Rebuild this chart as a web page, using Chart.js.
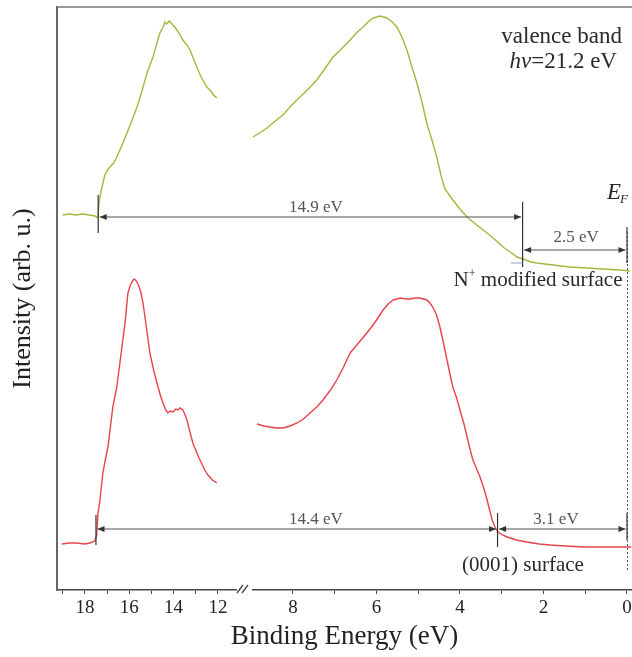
<!DOCTYPE html>
<html><head><meta charset="utf-8">
<script src="https://cdn.jsdelivr.net/npm/chart.js@4/dist/chart.umd.min.js"></script>
<style>html,body{margin:0;padding:0;background:#fff}#wrap{width:632px;height:657px}</style>
</head><body><div id="wrap"><canvas id="c" width="632" height="657"></canvas></div>
<script>
// ---------- data (binding energy in eV, intensity in arb. u.) ----------
const greenLeftE = [19.0,18.7,18.4,18.1,17.8,17.55,17.42,17.37,17.3,17.23,17.1,16.95,16.87,16.7,16.56,16.3,16.1,15.85,15.65,15.4,15.2,14.93,14.75,14.62,14.45,14.39,14.3,14.2,14.07,13.95,13.85,13.7,13.58,13.4,13.26,13.1,12.95,12.8,12.68,12.5,12.36,12.2,12.05];
const greenLeftI = [375,376,375,376,375,374,372,385,396,403,415,421,423,427,433,446,457,471,483,501,517,533,547,557,564,568,566,569,566,563,560,555,550,545,540,531,523,515,510,503,500,495,492];
const greenRightE = [8.96,8.8,8.62,8.45,8.24,8.05,7.83,7.63,7.43,7.24,7.04,6.84,6.63,6.48,6.32,6.2,6.08,5.92,5.83,5.75,5.62,5.51,5.39,5.27,5.15,5.03,4.91,4.79,4.67,4.55,4.45,4.36,4.17,4.0,3.83,3.6,3.35,3.15,2.97,2.8,2.63,2.49,2.3,2.16,1.77,1.37,0.96,0.57,0.17,-0.07];
const greenRightI = [453,457,462,468,475,484,493,501,510,521,533,541,550,557,563,568,572,574,573,572,568,563,553,540,523,507,488,466,450,432,414,401,390,381,373,365,357,350,343,338,333,331,328,327,325,323,322,321,320,319];
const redLeftE = [19.04,18.7,18.36,18.0,17.77,17.55,17.47,17.41,17.32,17.19,17.08,16.96,16.85,16.74,16.56,16.45,16.33,16.19,16.06,15.95,15.88,15.79,15.72,15.65,15.55,15.47,15.38,15.29,15.18,15.07,14.9,14.75,14.6,14.48,14.35,14.26,14.15,14.03,13.9,13.8,13.71,13.58,13.5,13.4,13.25,13.13,12.95,12.81,12.62,12.45,12.25,12.05];
const redLeftI = [46,47,47,46,47,49,55,77,90,117,130,143,163,183,203,222,243,267,297,305,308,311,310,308,303,297,287,273,255,237,220,207,195,187,180,177,179,178,181,180,182,180,176,170,157,147,137,130,121,115,110,107];
const redRightE = [8.86,8.7,8.55,8.4,8.24,8.07,7.9,7.75,7.59,7.43,7.28,7.1,6.95,6.8,6.63,6.43,6.23,6.03,5.84,5.72,5.6,5.43,5.3,5.19,5.08,4.96,4.88,4.79,4.72,4.65,4.56,4.48,4.4,4.31,4.24,4.17,4.08,4.0,3.91,3.83,3.76,3.69,3.6,3.52,3.43,3.35,3.29,3.23,3.16,3.09,2.98,2.87,2.65,2.4,2.1,1.84,1.45,1.05,0.6,0.24,-0.1];
const redRightI = [166,164,163,162,162,164,167,171,177,183,190,200,210,222,237,247,257,268,280,286,290,292,291,291,292,292,291,290,287,283,275,263,248,230,216,203,192,180,167,153,141,130,121,113,102,90,80,70,63,58,55,53,50,48,46,45,44,43,43,43,43];

const tickEnergies = [19,18,17,16,15,14,13,12,8,7,6,5,4,3,2,1,0];
const tickLabels   = ['','18','','16','','14','','12','8','','6','','4','','2','','0'];

// annotation values (eV)
const greenCutoff = 17.4, greenVBM = 2.5;
const redCutoff = 17.5, redVBM = 3.1;
const greenArrowI = 373, greenVbmArrowI = 340;
const redArrowI = 61;

// ---------- broken axis mapping (12..19 eV compressed, 0..9 eV full) ----------
function toAxis(E){ return E <= 10 ? E : 9.796 + (E - 12) * 0.531; }
function series(E1, I1, E2, I2){
  const d = E1.map((e,i)=>({x:toAxis(e), y:I1[i]}));
  d.push({x:toAxis(11), y:null});
  return d.concat(E2.map((e,i)=>({x:toAxis(e), y:I2[i]})));
}

const SERIF = '"Liberation Serif","Times New Roman",serif';

const annot = {
  id:'annot',
  afterDraw(chart){
    const {ctx, chartArea:ca, scales:{x, y}} = chart;
    const X = E => x.getPixelForValue(toAxis(E));
    const Y = v => y.getPixelForValue(v);
    ctx.save();
    // top frame line
    ctx.strokeStyle = '#777'; ctx.lineWidth = 1.5;
    ctx.beginPath(); ctx.moveTo(ca.left, ca.top); ctx.lineTo(ca.right, ca.top); ctx.stroke();
    // axis break
    const bx1 = x.getPixelForValue(9.34), bx2 = x.getPixelForValue(8.98);
    ctx.fillStyle = '#fff'; ctx.fillRect(bx1, ca.bottom - 4, bx2 - bx1, 8);
    ctx.strokeStyle = '#444'; ctx.lineWidth = 1.3;
    ctx.beginPath();
    ctx.moveTo(bx1, ca.bottom + 3); ctx.lineTo(bx1 + 6, ca.bottom - 5);
    ctx.moveTo(bx1 + 5, ca.bottom + 3); ctx.lineTo(bx1 + 11, ca.bottom - 5);
    ctx.stroke();

    // dotted Fermi line
    ctx.strokeStyle = '#555'; ctx.lineWidth = 1; ctx.setLineDash([2,2]);
    ctx.beginPath(); ctx.moveTo(X(0)+0.5, Y(358)); ctx.lineTo(X(0)+0.5, Y(20)); ctx.stroke();
    ctx.setLineDash([]);

    const vline = (E, a, b) => { ctx.strokeStyle = '#333'; ctx.lineWidth = 1.2;
      ctx.beginPath(); ctx.moveTo(X(E), Y(a)); ctx.lineTo(X(E), Y(b)); ctx.stroke(); };
    const head = (px, py, dir) => { ctx.fillStyle = '#333'; ctx.beginPath();
      ctx.moveTo(px, py); ctx.lineTo(px - dir*7, py - 3); ctx.lineTo(px - dir*7, py + 3); ctx.closePath(); ctx.fill(); };
    const arrow = (E1, E2, v) => { const x1 = X(E1) + 1.5, x2 = X(E2) - 1.5, py = Y(v);
      ctx.strokeStyle = '#555'; ctx.lineWidth = 1;
      ctx.beginPath(); ctx.moveTo(x1, py); ctx.lineTo(x2, py); ctx.stroke();
      head(x1, py, -1); head(x2, py, 1); };
    const label = (txt, E, v, size) => { ctx.fillStyle = '#555'; ctx.font = size + 'px ' + SERIF;
      ctx.textAlign = 'center'; ctx.textBaseline = 'middle'; ctx.fillText(txt, X(E), Y(v)); };

    // green (N+ modified) markers
    vline(greenCutoff, 395, 357);
    vline(greenVBM, 388, 323);
    vline(0, 363, 327);
    arrow(greenCutoff, greenVBM, greenArrowI);
    arrow(greenVBM, 0, greenVbmArrowI);
    label((greenCutoff - greenVBM).toFixed(1) + ' eV', 7.45, greenArrowI + 9, 17);
    label(greenVBM.toFixed(1) + ' eV', 1.22, greenVbmArrowI + 12, 17);
    ctx.strokeStyle = '#8ea2c8'; ctx.lineWidth = 1;
    ctx.beginPath(); ctx.moveTo(X(2.78), Y(327)); ctx.lineTo(X(2.5), Y(327)); ctx.stroke();

    // red ((0001)) markers
    vline(redCutoff, 75, 45);
    vline(redVBM, 77, 43);
    vline(0, 77, 50);
    arrow(redCutoff, redVBM, redArrowI);
    arrow(redVBM, 0, redArrowI);
    label((redCutoff - redVBM).toFixed(1) + ' eV', 7.45, redArrowI + 9, 17);
    label(redVBM.toFixed(1) + ' eV', 1.7, redArrowI + 9, 17);

    // texts
    ctx.fillStyle = '#2a2a2a'; ctx.textBaseline = 'middle';
    ctx.font = '23px ' + SERIF; ctx.textAlign = 'right';
    ctx.fillText('valence band', X(0.12), Y(553));
    const rest = '=21.2 eV';
    const rx = X(0.24);
    ctx.fillText(rest, rx, Y(528));
    const rw = ctx.measureText(rest).width;
    ctx.font = 'italic 23px ' + SERIF;
    ctx.fillText('h\u03BD', rx - rw, Y(528));
    // E_F
    ctx.textAlign = 'left';
    ctx.font = 'italic 23px ' + SERIF;
    ctx.fillText('E', X(0) - 20, Y(397));
    const ew = ctx.measureText('E').width;
    ctx.font = 'italic 13px ' + SERIF;
    ctx.fillText('F', X(0) - 20 + ew - 1, Y(390));
    // N+ modified surface
    ctx.font = '21px ' + SERIF;
    const t1 = 'N', t3 = ' modified surface';
    const w1 = ctx.measureText(t1).width, w3 = ctx.measureText(t3).width;
    ctx.font = '12px ' + SERIF; const w2 = ctx.measureText('+').width;
    let sx = X(2.13) - (w1 + w2 + w3) / 2;
    ctx.font = '21px ' + SERIF; ctx.fillText(t1, sx, Y(310));
    ctx.font = '12px ' + SERIF; ctx.fillText('+', sx + w1, Y(316));
    ctx.font = '21px ' + SERIF; ctx.fillText(t3, sx + w1 + w2, Y(310));
    // (0001) surface
    ctx.textAlign = 'center';
    ctx.fillText('(0001) surface', X(2.49), Y(25));
    ctx.restore();
  }
};

new Chart(document.getElementById('c'), {
  type:'line',
  data:{ datasets:[
    { label:'N+ modified surface', data: series(greenLeftE, greenLeftI, greenRightE, greenRightI),
      borderColor:'#a8b53e', borderWidth:1.4, pointRadius:0, tension:0, spanGaps:false, fill:false },
    { label:'(0001) surface', data: series(redLeftE, redLeftI, redRightE, redRightI),
      borderColor:'#e8424c', borderWidth:1.4, pointRadius:0, tension:0, spanGaps:false, fill:false }
  ]},
  options:{
    responsive:false, animation:false, events:[],
    layout:{ padding:{ top:7, right:0, left:0, bottom:0 } },
    plugins:{ legend:{display:false}, tooltip:{enabled:false} },
    scales:{
      x:{ type:'linear', reverse:true, min:-0.12, max:13.65,
        afterBuildTicks: s => { s.ticks = tickEnergies.map(e => ({value: toAxis(e)})); },
        afterFit: s => { s.height = 67; s.paddingLeft = 0; s.paddingRight = 0; },
        ticks:{ autoSkip:false, maxRotation:0, padding:3, color:'#222',
          font:{ family:SERIF, size:19 }, callback:(v,i) => tickLabels[i] },
        grid:{ display:true, drawOnChartArea:false, drawTicks:true, tickLength:4, tickColor:'#444' },
        border:{ display:true, color:'#444', width:1.6 },
        title:{ display:true, text:'Binding Energy (eV)', color:'#222',
          font:{ family:SERIF, size:27 }, padding:{ top:0, bottom:4 } }
      },
      y:{ type:'linear', min:0, max:583,
        afterFit: s => { s.width = 57; s.paddingTop = 0; s.paddingBottom = 0; },
        ticks:{ display:false }, grid:{ display:false },
        border:{ display:true, color:'#666', width:2 },
        title:{ display:true, text:'Intensity (arb. u.)', color:'#222',
          font:{ family:SERIF, size:26 }, padding:{ top:8, bottom:0 } }
      }
    }
  },
  plugins:[annot]
});
</script></body></html>
